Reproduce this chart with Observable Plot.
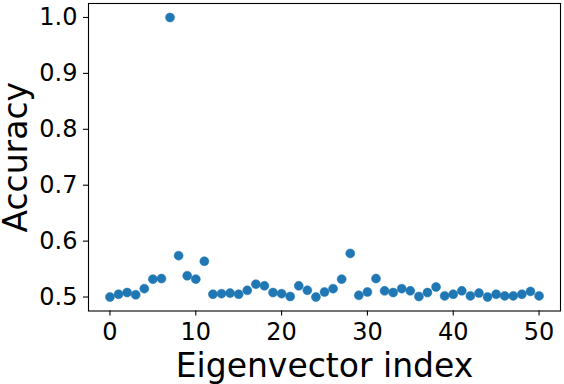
<!DOCTYPE html>
<html>
<head>
<meta charset="utf-8">
<script src="https://cdn.jsdelivr.net/npm/d3@7"></script>
<script src="https://cdn.jsdelivr.net/npm/@observablehq/plot@0.6"></script>
<style>
  html, body { margin: 0; padding: 0; background: #fff; }
  svg { display: block; }
</style>
</head>
<body>
<div id="chart"></div>
<script>
const indices = d3.range(0, 51);
const accuracy = [
  0.500, 0.505, 0.508, 0.504, 0.515, 0.532, 0.533, 1.000, 0.574, 0.538,
  0.532, 0.564, 0.505, 0.506, 0.507, 0.505, 0.512, 0.523, 0.520, 0.508,
  0.506, 0.501, 0.520, 0.512, 0.500, 0.509, 0.515, 0.532, 0.578, 0.503,
  0.509, 0.533, 0.511, 0.508, 0.515, 0.511, 0.501, 0.508, 0.518, 0.502,
  0.505, 0.511, 0.502, 0.507, 0.500, 0.505, 0.502, 0.502, 0.505, 0.510,
  0.502
];
const xTicks = [0, 10, 20, 30, 40, 50];
const yTicks = [0.5, 0.6, 0.7, 0.8, 0.9, 1.0];
const xLabel = "Eigenvector index";
const yLabel = "Accuracy";

const data = indices.map((i, k) => ({index: i, accuracy: accuracy[k]}));

const chart = Plot.plot({
  width: 564,
  height: 384,
  marginLeft: 88,
  marginRight: 4,
  marginTop: 3,
  marginBottom: 73.5,
  style: {fontFamily: "DejaVu Sans", background: "#fff", color: "#000"},
  x: {domain: [-2.5, 52.5]},
  y: {domain: [0.475, 1.025]},
  marks: [
    Plot.axisX({ticks: xTicks, tickSize: 5, tickPadding: 6.5, fontSize: 24, label: null, tickFormat: d3.format("d"), stroke: "#000", strokeWidth: 1.1}),
    Plot.axisY({ticks: yTicks, tickSize: 5, tickPadding: 6, fontSize: 24, label: null, tickFormat: d3.format(".1f"), stroke: "#000", strokeWidth: 1.1}),
    Plot.dot(data, {x: "index", y: "accuracy", r: 4.5, fill: "#1f77b4", stroke: "#1f77b4", strokeWidth: 0.5}),
    Plot.frame({stroke: "#000", strokeWidth: 1.1}),
    Plot.text([xLabel], {frameAnchor: "bottom", dy: 66, lineAnchor: "bottom", fontSize: 33, fill: "#000"}),
    Plot.text([yLabel], {frameAnchor: "left", dx: -62, rotate: -90, lineAnchor: "bottom", textAnchor: "middle", fontSize: 33, fill: "#000"})
  ]
});
document.getElementById("chart").appendChild(chart);
</script>
</body>
</html>
